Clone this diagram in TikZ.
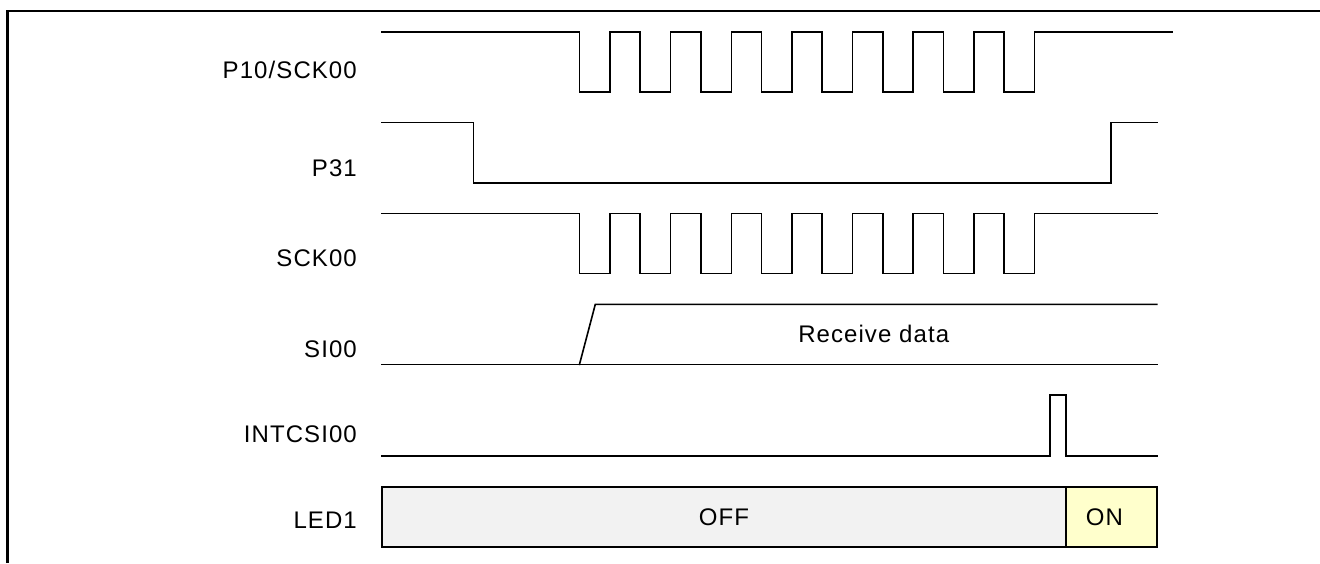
\documentclass[tikz,border=0pt]{standalone}
\usepackage{fontspec}
\setmainfont{Liberation Sans}[LetterSpace=4.5]
\definecolor{offgray}{HTML}{F2F2F2}
\definecolor{onyellow}{HTML}{FFFFCC}
\begin{document}
\begin{tikzpicture}[x=1pt,y=-1pt,
  sig/.style={line width=1.6pt,line join=miter,line cap=rect},
  frameline/.style={line width=2.2pt},
  lbl/.style={anchor=base east,inner sep=0pt,font=\fontsize{24}{27}\selectfont},
  txt/.style={anchor=base,inner sep=0pt,font=\fontsize{24}{27}\selectfont},
  ledbox/.style={draw,line width=1.6pt}]
\useasboundingbox (0,0) rectangle (1320,563);
% frame
\draw[frameline] (7.5,563) -- (7.5,11) -- (1320,11);
% labels
\node[lbl] (lp10) at (357,78.3) {P10/SCK00};
\node[lbl] (lp31) at (357,176) {P31};
\node[lbl] (lsck) at (357,266) {SCK00};
\node[lbl] (lsi) at (357,357.7) {SI00};
\node[lbl] (lint) at (357,442.7) {INTCSI00};
\node[lbl] (lled) at (357,528.3) {LED1};
% P10/SCK00
\draw[sig] (382,32) -- (579.5,32)
  \foreach \k in {1,...,8}{ -- ++(0,60) -- ++(30.5,0) -- ++(0,-60) -- ++(30.15,0)}
  -- (1171.7,32);
% P31
\draw[sig] (382,122.3) -- (473.3,122.3) -- (473.3,182.7) -- (1110.7,182.7) -- (1110.7,122.3) -- (1156.7,122.3);
% SCK00
\draw[sig] (382,213.3) -- (579.5,213.3)
  \foreach \k in {1,...,8}{ -- ++(0,60) -- ++(30.5,0) -- ++(0,-60) -- ++(30.15,0)}
  -- (1156.7,213.3);
% SI00
\draw[sig] (382,364.3) -- (1156.7,364.3);
\draw[sig] (579.5,364.3) -- (595.3,304.3) -- (1156.7,304.3);
\node[txt] (rd) at (873.7,342.3) {Receive data};
% INTCSI00
\draw[sig] (382,455.7) -- (1050,455.7) -- (1050,395) -- (1065.7,395) -- (1065.7,455.7) -- (1156.7,455.7);
% LED1
\draw[ledbox,fill=offgray] (382,486.7) rectangle (1065.7,546.7);
\draw[ledbox,fill=onyellow] (1065.7,486.7) rectangle (1156.7,546.7);
\node[txt] (off) at (724,525) {OFF};
\node[txt] (on) at (1104.3,525) {ON};
\end{tikzpicture}
\end{document}
